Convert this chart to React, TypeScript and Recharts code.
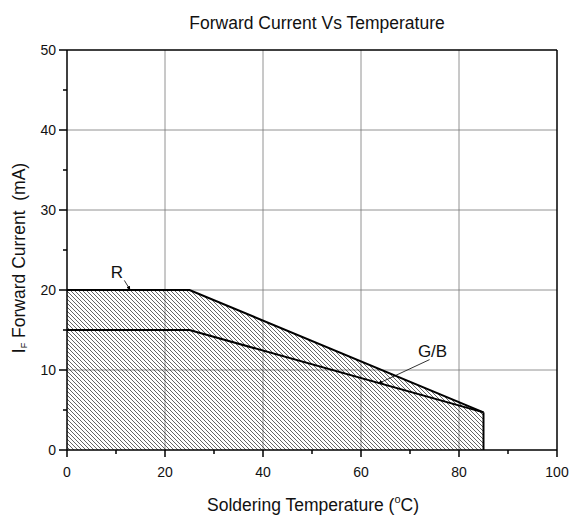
import React from 'react';
import {
  ComposedChart,
  Area,
  Line,
  XAxis,
  YAxis,
  CartesianGrid,
  ReferenceLine,
  ReferenceDot,
} from 'recharts';

const temperatures = [0, 25, 85];
const redCurrent = [20, 20, 4.7];
const gbCurrent = [15, 15, 4.7];

const xTicks = [0, 10, 20, 30, 40, 50, 60, 70, 80, 90, 100];
const yTicks = [0, 5, 10, 15, 20, 25, 30, 35, 40, 45, 50];
const xGrid = [20, 40, 60, 80];
const yGrid = [10, 20, 30, 40];

const chartTitle = 'Forward Current Vs Temperature';
const seriesLabels = [
  { name: 'R', x: 10.2, y: 22.3, from: { x: 11.7, y: 21.2 }, to: { x: 12.9, y: 20 } },
  { name: 'G/B', x: 74.6, y: 12.4, from: { x: 74.0, y: 11.3 }, to: { x: 63.5, y: 8.3 } },
];

const data = temperatures.map((t, i) => ({ t, r: redCurrent[i], gb: gbCurrent[i] }));

const FONT = '"Liberation Sans", Arial, sans-serif';

const XTick = (props: any) => {
  const { x, y, payload } = props;
  const v = payload.value;
  const major = v % 20 === 0;
  return (
    <g>
      <line x1={x} x2={x} y1={y} y2={y + (major ? 7 : 4)} stroke="#000" strokeWidth={1.5} />
      {major && (
        <text x={x} y={y + 22} textAnchor="middle" dominantBaseline="central" fontSize={14} fill="#111" fontFamily={FONT}>
          {v}
        </text>
      )}
    </g>
  );
};

const YTick = (props: any) => {
  const { x, y, payload } = props;
  const v = payload.value;
  const major = v % 10 === 0;
  return (
    <g>
      <line x1={x - (major ? 8 : 4)} x2={x} y1={y} y2={y} stroke="#000" strokeWidth={1.5} />
      {major && (
        <text x={x - 11} y={y} textAnchor="end" dominantBaseline="central" fontSize={14} fill="#111" fontFamily={FONT}>
          {v}
        </text>
      )}
    </g>
  );
};

const XLabel = (props: any) => {
  const vb = props.viewBox;
  const cx = vb.x + vb.width / 2 + 1;
  return (
    <text x={cx} y={vb.y + 55} textAnchor="middle" dominantBaseline="central" fontSize={17.5} fill="#111" fontFamily={FONT}>
      Soldering Temperature (
      <tspan dy={-6} fontSize={11}>o</tspan>
      <tspan dy={6}>C)</tspan>
    </text>
  );
};

const YLabel = (props: any) => {
  const vb = props.viewBox;
  const cx = 19;
  const cy = vb.y + vb.height / 2 + 8;
  return (
    <text
      x={cx}
      y={cy}
      transform={`rotate(-90 ${cx} ${cy})`}
      textAnchor="middle"
      dominantBaseline="central"
      fontSize={17.5}
      fill="#111"
      fontFamily={FONT}
    >
      I
      <tspan dy={5} fontSize={9}>F</tspan>
      <tspan dy={-5}>{'\u00A0Forward Current\u00A0\u00A0(mA)'}</tspan>
    </text>
  );
};

export default function App() {
  return (
    <div style={{ position: 'absolute', left: 0, top: 0, width: 574, height: 518, background: '#fff' }}>
      <div
        style={{
          position: 'absolute',
          left: 0,
          top: 12,
          width: 574,
          textAlign: 'center',
          paddingLeft: 60,
          boxSizing: 'border-box',
          fontFamily: FONT,
          fontSize: 17.5,
          lineHeight: '22px',
          color: '#111',
        }}
      >
        {chartTitle}
      </div>
      <ComposedChart
        width={574}
        height={518}
        data={data}
        margin={{ top: 50, right: 17, bottom: 38, left: 7 }}
        style={{ position: 'absolute', left: 0, top: 0 }}
      >
        <defs>
          <pattern id="hatch" patternUnits="userSpaceOnUse" width={4} height={4}>
            <path d="M0,0 L4,4 M-1,3 L1,5 M3,-1 L5,1" stroke="#222" strokeWidth={0.7} />
          </pattern>
          <marker id="arrow" viewBox="0 0 6 6" refX={6} refY={3} markerWidth={5} markerHeight={5} orient="auto">
            <path d="M0,0 L6,3 L0,6 z" fill="#000" />
          </marker>
        </defs>
        <CartesianGrid stroke="#777" strokeWidth={0.8} horizontalValues={yGrid} verticalValues={xGrid} />
        <XAxis
          type="number"
          dataKey="t"
          domain={[0, 100]}
          ticks={xTicks}
          interval={0}
          tickSize={0}
          tickMargin={0}
          tick={<XTick />}
          axisLine={{ stroke: '#000', strokeWidth: 1.5 }}
          tickLine={false}
          height={30}
          label={<XLabel />}
        />
        <YAxis
          type="number"
          domain={[0, 50]}
          ticks={yTicks}
          interval={0}
          tickSize={0}
          tickMargin={0}
          tick={<YTick />}
          axisLine={{ stroke: '#000', strokeWidth: 1.5 }}
          tickLine={false}
          width={60}
          label={<YLabel />}
        />
        <ReferenceLine y={50} stroke="#000" strokeWidth={1.5} />
        <ReferenceLine x={100} stroke="#000" strokeWidth={1.5} />
        <Area
          type="linear"
          dataKey="r"
          stroke="#000"
          strokeWidth={2}
          fill="url(#hatch)"
          fillOpacity={1}
          isAnimationActive={false}
          dot={false}
          activeDot={false}
        />
        <Line
          type="linear"
          dataKey="gb"
          stroke="#000"
          strokeWidth={2}
          dot={false}
          activeDot={false}
          isAnimationActive={false}
        />
        <ReferenceLine
          segment={[
            { x: temperatures[2], y: 0 },
            { x: temperatures[2], y: redCurrent[2] },
          ]}
          stroke="#000"
          strokeWidth={2}
        />
        {seriesLabels.map((s) => (
          <ReferenceLine
            key={s.name + 'l'}
            segment={[s.from, s.to]}
            stroke="#000"
            strokeWidth={0.8}
            markerEnd="url(#arrow)"
          />
        ))}
        {seriesLabels.map((s) => (
          <ReferenceDot
            key={s.name}
            x={s.x}
            y={s.y}
            r={1}
            fill="none"
            stroke="none"
            label={{ value: s.name, position: 'center', fontSize: 17, fill: '#111', fontFamily: FONT }}
          />
        ))}
      </ComposedChart>
    </div>
  );
}
